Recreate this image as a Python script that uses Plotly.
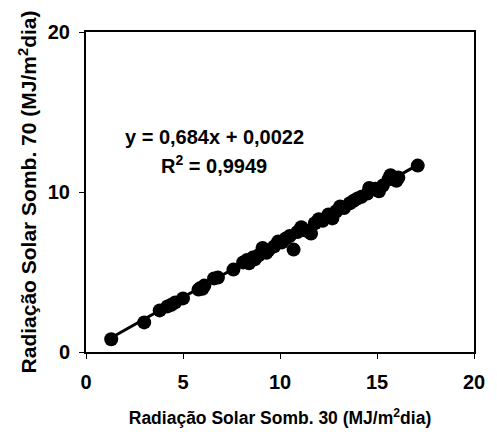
import plotly.graph_objects as go

# Data
somb30 = [1.3, 3.0, 3.8, 4.2, 4.4, 4.6, 5.0, 5.8, 5.9, 6.0, 6.1, 6.6, 6.8, 7.6,
          8.1, 8.3, 8.4, 8.6, 8.7, 8.9, 9.1, 9.3, 9.4, 9.7, 9.9, 10.1, 10.3,
          10.5, 10.7, 10.9, 11.1, 11.3, 11.6, 11.8, 12.0, 12.2, 12.5, 12.7,
          12.9, 13.1, 13.3, 13.6, 13.8, 14.0, 14.2, 14.5, 14.6, 14.9, 15.1,
          15.3, 15.6, 15.7, 16.0, 16.1, 17.1]
somb70 = [0.8, 1.85, 2.6, 2.85, 2.95, 3.1, 3.35, 3.9, 4.0, 3.95, 4.15, 4.6, 4.65, 5.15,
          5.6, 5.75, 5.55, 5.9, 5.8, 6.05, 6.5, 6.2, 6.35, 6.6, 6.9, 6.85, 7.1,
          7.25, 6.4, 7.5, 7.8, 7.6, 7.4, 8.05, 8.3, 8.2, 8.6, 8.35,
          8.8, 9.1, 9.0, 9.3, 9.45, 9.6, 9.7, 9.9, 10.25, 10.2, 10.05,
          10.4, 10.8, 11.05, 10.7, 10.9, 11.65]

slope = 0.684
intercept = 0.0022
eq_text = "y = 0,684x + 0,0022"
r2_text = "R<sup>2</sup> = 0,9949"
x_ticks = [0, 5, 10, 15, 20]
y_ticks = [0, 10, 20]

FONT = "Liberation Sans, Arial, sans-serif"

x_line = [min(somb30), max(somb30)]
y_line = [slope * v + intercept for v in x_line]

fig = go.Figure()
fig.add_trace(go.Scatter(x=x_line, y=y_line, mode="lines",
                         line=dict(color="black", width=3), showlegend=False,
                         hoverinfo="skip"))
fig.add_trace(go.Scatter(x=somb30, y=somb70, mode="markers",
                         marker=dict(color="black", size=14), showlegend=False))

ann_font = dict(family=FONT, size=20, color="black", weight="bold")
fig.add_annotation(x=6.6, y=13.45, xref="x", yref="y", text=eq_text,
                   showarrow=False, font=ann_font)
fig.add_annotation(x=6.6, y=11.75, xref="x", yref="y", text=r2_text,
                   showarrow=False, font=ann_font)

axis_common = dict(showgrid=False, zeroline=False, showline=True, linecolor="black",
                   linewidth=2, mirror=True, ticks="outside", ticklen=5, tickwidth=1,
                   tickcolor="black",
                   tickfont=dict(family=FONT, size=20, color="black", weight="bold"))

fig.update_xaxes(range=[0, 20], tickvals=x_ticks, ticktext=[str(v) for v in x_ticks],
                 ticklabelstandoff=6,
                 title=dict(text="Radiação Solar Somb. 30 (MJ/m<sup>2</sup>dia)",
                            font=dict(family=FONT, size=17.5, color="black", weight="bold"),
                            standoff=20),
                 **axis_common)
fig.update_yaxes(range=[0, 20], tickvals=y_ticks, ticktext=[str(v) for v in y_ticks],
                 ticklabelstandoff=5,
                 title=dict(text="Radiação Solar Somb. 70 (MJ/m<sup>2</sup>dia)",
                            font=dict(family=FONT, size=21, color="black", weight="bold"),
                            standoff=5),
                 **axis_common)

fig.update_layout(width=497, height=437, margin=dict(l=86, r=12, t=32, b=84),
                  plot_bgcolor="white", paper_bgcolor="white",
                  font=dict(family=FONT, color="black"))

fig.write_html("out.html")
